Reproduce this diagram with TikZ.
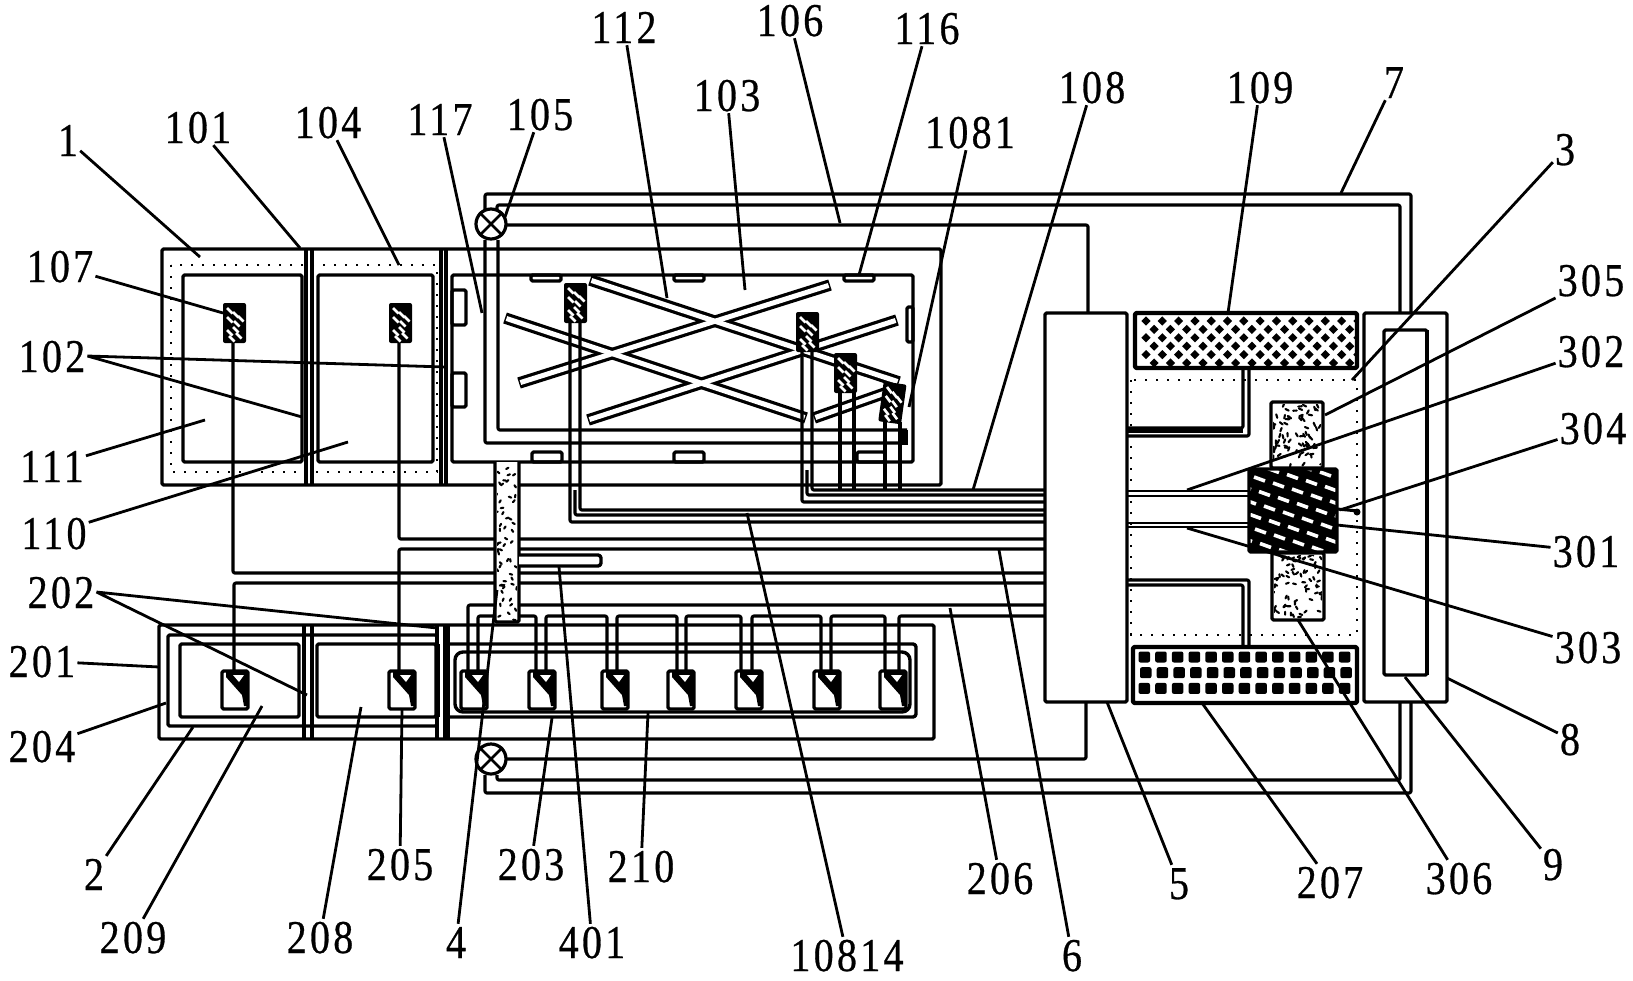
\documentclass[tikz,border=0pt]{standalone}
\usepackage{fontspec}
\setmainfont{Liberation Serif}[FakeStretch=0.85,LetterSpace=7,FakeBold=0.6]
\tikzset{
  wall/.style={draw=black,line width=3.4pt,rounded corners=1.5pt,line join=round},
  wire/.style={draw=black,line width=3.2pt,rounded corners=2pt,line join=round},
  dots/.style={draw=black,line width=2.4pt,dash pattern=on 2.4pt off 8.6pt},
  leader/.style={draw=black,line width=2.8pt},
  lbl/.style={font=\fontsize{47}{50}\selectfont,inner sep=2pt,text height=32pt,text depth=0pt,anchor=center},
  valve/.style={circle,draw=black,fill=white,line width=3.2pt,minimum size=30pt,inner sep=0pt}
}
\newcommand\lab[5]{\node[lbl] (l#1) at (#2,#3) {#1};\coordinate (e#1) at (#4,#5);\draw[leader] (l#1) -- (e#1);}
\newcommand\hatchsensor[2]{%
  \begin{scope}[shift={(#1,#2)}]
  \fill[black,rounded corners=2pt] (0,0) rectangle (23,40);
  \foreach \a/\b in {4/5,10/9,15/13,4/14,11/18,4/27,10/24,6/33,13/30}
    \draw[white,line width=2.6pt] (\a,\b) -- ++(5.5,5.5);
  \end{scope}}
\newcommand\tripsensor[2]{%
  \begin{scope}[shift={(#1,#2)}]
  \draw[wall,fill=white] (0,0) rectangle (26,38);
  \fill[black] (4,0) -- (26,0) -- (26,35) -- (22,35) -- (20,24) -- (4,6) -- cycle;
  \fill[white] (11,4) -- (22,4) -- (17,11) -- cycle;
  \end{scope}}
\newcommand\speck[7]{%
  \begin{scope}
  \clip (#1,#2) rectangle (#3,#4);
  \pgfmathsetseed{#6}
  \foreach \i in {1,...,#5}{
    \pgfmathsetmacro\px{#1+rnd*(#3-#1)}
    \pgfmathsetmacro\py{#2+rnd*(#4-#2)}
    \pgfmathsetmacro\pa{rnd*360}
    \draw[black,line width=2.1pt,line cap=round] (\px,\py) -- ++(\pa:#7);
  }
  \end{scope}}
\begin{document}
\begin{tikzpicture}[x=1pt,y=-1pt]
\useasboundingbox (0,0) rectangle (1633,980);
\fill[white] (0,0) rectangle (1633,980);

% upper housing
\draw[wall] (162,249) rectangle (941,485);
\foreach \w in {306,312,446} \draw[wall] (\w,249) -- (\w,485);
\draw[wall,line width=4.4pt] (441,249) -- (441,485);
\draw[dots] (171,265) rectangle (437,472);
\draw[wall] (183,275) rectangle (302,462);
\draw[wall] (318,275) rectangle (433,462);
\draw[wall] (452,275) rectangle (913,462);
% tabs
\foreach \a/\b in {290/325,373/407} \draw[wall] (452,\a) rectangle (466,\b);
\foreach \a/\b in {531/561,674/704,844/874} \draw[wall] (\a,275) rectangle (\b,281);
\foreach \a/\b in {532/562,674/704,857/885} \draw[wall] (\a,452) rectangle (\b,462);
\draw[wall] (907,307) rectangle (913,342);

% crossed rods
\foreach \a/\b/\c/\d in {590/280/899/382,505/318/806/418,830/285/519/383,897/320/588/420,814/418/885/393}
  \draw[black,line width=11.5pt] (\a,\b) -- (\c,\d);
\foreach \a/\b/\c/\d in {590/280/899/382,505/318/806/418,830/285/519/383,897/320/588/420,814/418/885/393}
  \draw[white,line width=5pt,shorten >=1.5pt,shorten <=1.5pt] (\a,\b) -- (\c,\d);

% heating tube and circuit
\draw[wire] (485,240) -- (485,443) -- (907,443);
\draw[wire] (498,240) -- (498,430) -- (907,430);
\fill[black] (901,430) rectangle (908,445);
\draw[wire] (485,212) -- (485,194) -- (1411,194) -- (1411,313);
\draw[wire] (497,212) -- (497,205) -- (1400,205) -- (1400,313);
\draw[wire] (505,225) -- (1088,225) -- (1088,313);
\draw[wire] (485,775) -- (485,793) -- (1411,793) -- (1411,702);
\draw[wire] (497,775) -- (497,780) -- (1400,780) -- (1400,702);
\draw[wire] (505,759) -- (1086,759) -- (1086,702);
\node[valve] (vtop) at (491,224) {};
\draw[line width=2.8pt] (vtop.45) -- (vtop.225) (vtop.135) -- (vtop.315);
\node[valve] (vbot) at (491,759) {};
\draw[line width=2.8pt] (vbot.45) -- (vbot.225) (vbot.135) -- (vbot.315);

% lower housing
\draw[wall] (159,625) rectangle (934,739);
\foreach \w in {304,312,437,445,448} \draw[wall] (\w,625) -- (\w,739);
\fill[black] (436,644) rectangle (440,717);
\draw[wall] (168,635) rectangle (437,726);
\draw[wall] (180,644) rectangle (299,717);
\draw[wall] (317,644) rectangle (436,717);
\draw[wall,rounded corners=3pt] (445,644) rectangle (916,717);
\draw[wall,rounded corners=8pt] (455,652) rectangle (910,712);

% wires sensors -> controller
\draw[wire] (233,343) -- (233,573) -- (1045,573);
\draw[wire] (234,671) -- (234,583) -- (1045,583);
\draw[wire] (399,343) -- (399,539) -- (1045,539);
\draw[wire] (399,671) -- (399,549) -- (1045,549);
\draw[wire] (468,671) -- (468,605) -- (1045,605);
\foreach \a/\b in {478/536,546/607,617/677,686/741,752/821,831/885}
  \draw[wire] (\a,671) -- (\a,616) -- (\b,616) -- (\b,671);
\draw[wire] (899,671) -- (899,616) -- (1045,616);
\draw[wire] (570,322) -- (570,522) -- (1045,522);
\draw[wire] (575,490) -- (575,515) -- (1045,515);
\draw[wire] (580,322) -- (580,510) -- (1045,510);
\draw[wire] (802,352) -- (802,502) -- (1045,502);
\draw[wire] (807,470) -- (807,495) -- (1045,495);
\draw[wire] (812,352) -- (812,490) -- (1045,490);
\draw[wire] (840,392) -- (840,490);
\draw[wire] (854,392) -- (854,490);
\draw[wire] (885,422) -- (885,490);
\draw[wire] (900,422) -- (900,490);

% sensors
\hatchsensor{223}{303}
\hatchsensor{389}{303}
\hatchsensor{564}{283}
\hatchsensor{796}{312}
\hatchsensor{834}{353}
\begin{scope}[rotate around={-8:(893,402)}]\hatchsensor{881}{383}\end{scope}
\foreach \a in {222,389,461,529,602,668,736,814,880} {\tripsensor{\a}{671}}

% feed tube 4 and bar 401
\draw[wall,fill=white] (495,462) -- (495,622) -- (519,622) -- (519,462);
\speck{497}{464}{517}{620}{55}{7}{2.6}
\draw[wall,fill=white,rounded corners=3pt] (519,555) -- (601,555) -- (601,566) -- (519,566);

% controller, right part
\draw[wall,fill=white] (1045,313) rectangle (1127,702);
\draw[wall,fill=white] (1364,313) rectangle (1447,702);
\draw[wall] (1384,330) rectangle (1427,675);
\draw[line width=4.4pt] (1427,330) -- (1427,675);
\draw[dots] (1131,380) rectangle (1357,635);

% box 109
\begin{scope}
\clip (1135,313) rectangle (1357,368);
\foreach \r in {0,...,6}{
  \foreach \c in {0,...,14}{
    \pgfmathsetmacro\px{1146+\c*16.3+mod(\r,2)*8.1}
    \pgfmathsetmacro\py{321+\r*8.4}
    \fill[black] (\px-4.6,\py) -- (\px,\py-4.6) -- (\px+4.6,\py) -- (\px,\py+4.6) -- cycle;
  }}
\end{scope}
\draw[wall,line width=4.4pt] (1135,313) rectangle (1357,368);
% box 207
\foreach \r in {0,1,2}{
  \foreach \c in {0,...,12}{
    \pgfmathsetmacro\px{1140+\c*16.7+mod(\r,2)*1.5}
    \pgfmathsetmacro\py{657+\r*15.7}
    \fill[black,rounded corners=2pt] (\px-1.5,\py-5.5) rectangle (\px+10,\py+5.5);
  }}
\draw[wall,line width=4.4pt] (1133,647) rectangle (1357,703);

% pipes
\draw[wire] (1243,368) -- (1243,428) -- (1127,428);
\draw[wire] (1249,368) -- (1249,436) -- (1127,436);
\fill[black] (1127,428) rectangle (1243,433);
\draw[wire] (1243,647) -- (1243,585) -- (1127,585);
\draw[wire] (1249,647) -- (1249,580) -- (1127,580);
\foreach \y in {491,496,523,527} \draw[wire,line width=2.8pt] (1127,\y) -- (1249,\y);
% blocks 305, 306
\draw[wall,fill=white] (1271,402) rectangle (1323,468);
\speck{1273}{404}{1321}{466}{70}{11}{3.6}
\draw[wall,fill=white] (1272,553) rectangle (1324,620);
\speck{1274}{555}{1322}{618}{70}{23}{3}
% block 301
\begin{scope}
\clip (1249,469) rectangle (1337,552);
\fill[black] (1249,469) rectangle (1337,552);
\foreach \r in {-2,...,7}{
  \foreach \c in {-3,...,6}{
    \pgfmathsetmacro\px{1254+\c*19+\r*5}
    \pgfmathsetmacro\py{477+\r*14.5+\c*6}
    \draw[white,line width=3.6pt] (\px,\py) -- ++(11,4);
  }}
\end{scope}
\draw[wall] (1249,469) rectangle (1337,552);
\draw[line width=3pt] (1337,509) -- (1358,511);
\fill[black] (1357,512) circle (3.5);

% labels and leaders
\lab{1}{68}{140}{200}{257}
\lab{101}{198}{127}{300}{248}
\lab{104}{328}{122}{399}{265}
\lab{117}{440}{119}{482}{313}
\lab{105}{540}{114}{505}{217}
\lab{112}{624}{27}{667}{298}
\lab{103}{727}{95}{745}{290}
\lab{106}{790}{20}{840}{223}
\lab{116}{927}{28}{859}{275}
\lab{1081}{970}{132}{909}{407}
\lab{108}{1092}{87}{973}{490}
\lab{109}{1260}{87}{1228}{313}
\lab{7}{1394}{82}{1341}{193}
\lab{3}{1565}{149}{1352}{380}
\lab{305}{1591}{280}{1325}{415}
\lab{302}{1591}{351}{1187}{490}
\lab{304}{1593}{428}{1340}{510}
\lab{301}{1586}{551}{1337}{525}
\lab{303}{1588}{647}{1187}{528}
\lab{8}{1570}{739}{1447}{678}
\lab{9}{1553}{864}{1405}{677}
\lab{306}{1459}{878}{1298}{620}
\lab{207}{1330}{882}{1202}{703}
\lab{5}{1179}{883}{1107}{702}
\lab{6}{1072}{955}{999}{550}
\lab{206}{1000}{878}{950}{608}
\lab{10814}{847}{955}{747}{513}
\lab{210}{641}{866}{648}{713}
\lab{401}{592}{942}{559}{567}
\lab{203}{531}{864}{552}{718}
\lab{4}{456}{942}{497}{590}
\lab{205}{400}{864}{402}{708}
\lab{208}{320}{937}{361}{707}
\lab{209}{133}{937}{262}{706}
\lab{2}{94}{874}{193}{727}
\lab{204}{42}{746}{166}{703}
\lab{201}{42}{661}{159}{667}
\lab{110}{54}{533}{348}{442}
\lab{111}{52}{466}{205}{420}
\lab{107}{60}{266}{223}{313}
\node[lbl] (l102) at (52,356) {102};
\coordinate (e102a) at (445,367);
\coordinate (e102b) at (302,417);
\draw[leader] (l102.east) -- (e102a) (l102.east) -- (e102b);
\node[lbl] (l202) at (61,592) {202};
\coordinate (e202a) at (437,628);
\coordinate (e202b) at (307,695);
\draw[leader] (l202.east) -- (e202a) (l202.east) -- (e202b);
\end{tikzpicture}
\end{document}
